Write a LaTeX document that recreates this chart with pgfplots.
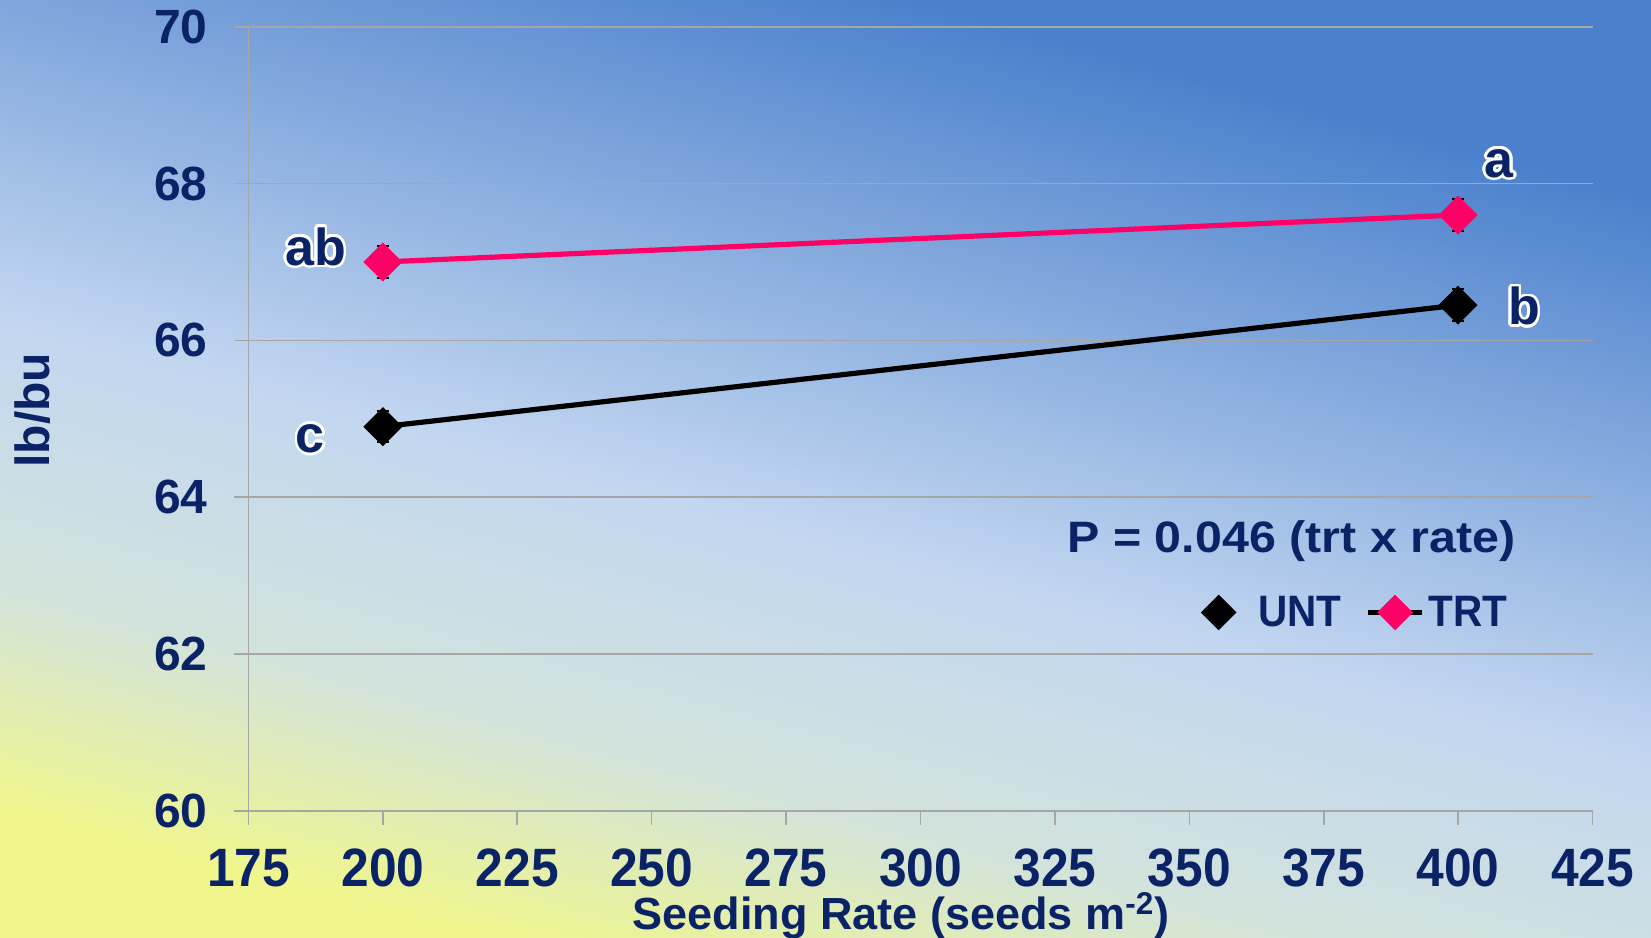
\documentclass[border=0pt]{standalone}
\usepackage{fontspec}
\setmainfont{Liberation Sans}
\usepackage{pgfplots}
\pgfplotsset{compat=1.18}
\usepackage{graphicx}
\usepackage[copies]{contour}
\contourlength{1.3pt}
\contournumber{24}
\definecolor{navy}{HTML}{0A2366}
\definecolor{pinkc}{HTML}{FF0066}
\definecolor{gridc}{HTML}{A6A6A6}
\definecolor{yel}{HTML}{F0F68C}
\definecolor{lgta}{HTML}{D2E3DC}
\definecolor{lgtb}{HTML}{C2D6F0}
\definecolor{blu}{HTML}{4A80CC}
\pgfdeclareverticalshading{bgshade}{100bp}{color(0bp)=(yel); color(25bp)=(yel); color(35bp)=(lgta); color(47bp)=(lgtb); color(72bp)=(blu); color(100bp)=(blu)}
\pgfplotsset{
  untleg/.style={legend image code/.code={\draw plot[mark=square*, mark size=5pt, mark options={rotate=45,fill=black,draw=black}] coordinates {(13.5pt,0pt)}; \path (30pt,0pt);}},
  trtleg/.style={legend image code/.code={\draw[black, line width=2.6pt] (0pt,0pt)--(27pt,0pt); \draw plot[mark=square*, mark size=5pt, mark options={rotate=45,fill=pinkc,draw=pinkc}] coordinates {(13.5pt,0pt)};}},
}
\pgfplotstableread{
x y e
200 64.90 0.20
400 66.45 0.20
}\unt
\pgfplotstableread{
x y e
200 67.00 0.20
400 67.60 0.20
}\trt
\begin{document}
\begin{tikzpicture}
\useasboundingbox (-124.25pt,-63.6pt) rectangle (701.25pt,405.4pt);
\shade[shading=bgshade, shading angle=-15] (-124.25pt,-63.6pt) rectangle (701.25pt,405.4pt);
\begin{axis}[
  at={(0,0)}, anchor=south west,
  scale only axis, width=672pt, height=392pt,
  xmin=175, xmax=425, ymin=60, ymax=70,
  xtick={175,200,...,425}, ytick={60,62,...,70},
  axis lines=left, axis line style={-, gridc, line width=0.8pt},
  tick align=outside, major tick length=7pt,
  tick style={gridc, line width=0.8pt},
  ymajorgrids, grid style={gridc, line width=0.8pt},
  /pgf/number format/assume math mode=true,
  yticklabel style={font=\bfseries\fontsize{24}{24}\selectfont, text=navy, xshift=-10pt},
  xticklabel style={font=\bfseries\fontsize{27}{28}\selectfont, text=navy, yshift=-8.5pt},
  xticklabel={\scalebox{0.92}[1]{\pgfmathprintnumber{\tick}}},
  xlabel={Seeding Rate (seeds m\textsuperscript{-2})},
  xlabel style={font=\bfseries\fontsize{22.5}{23}\selectfont, text=navy, at={(axis description cs:0.4855,0)}, anchor=center, yshift=-52.5pt},
  ylabel={lb/bu},
  ylabel style={font=\bfseries\fontsize{24}{24}\selectfont, text=navy, at={(axis description cs:-0.1607,0.511)}, anchor=center},
  legend style={at={(0.8255,0.253)}, anchor=center, draw=none, fill=none,
    font=\bfseries\fontsize{22}{22}\selectfont, text=navy,
    /tikz/every even column/.append style={column sep=10pt}},
  legend columns=2,
  clip=false,
]
\addplot[black, line width=2.6pt, mark=square*, mark size=5.6pt,
  mark options={rotate=45, solid, fill=black, draw=black}, untleg,
  error bars/.cd, y dir=both, y explicit,
  error bar style={black, line width=0.6pt},
  error mark options={rotate=90, black, mark size=3pt, line width=1pt}]
  table[x=x, y=y, y error=e] {\unt};
\addlegendentry{\scalebox{0.92}[1]{UNT}}
\addplot[pinkc, line width=2.6pt, mark=square*, mark size=5.6pt,
  mark options={rotate=45, solid, fill=pinkc, draw=pinkc}, trtleg,
  error bars/.cd, y dir=both, y explicit,
  error bar style={black, line width=0.6pt},
  error mark options={rotate=90, black, mark size=3pt, line width=1pt}]
  table[x=x, y=y, y error=e] {\trt};
\addlegendentry{\scalebox{0.92}[1]{TRT}}
\node[font=\bfseries\fontsize{22}{22}\selectfont, text=navy] at (axis cs:369,63.44) {\scalebox{1.1}[1]{P = 0.046 (trt x rate)}};
\node[font=\bfseries\fontsize{26}{26}\selectfont, text=navy] at (axis cs:187.5,67.18) {\contour{white}{ab}};
\node[font=\bfseries\fontsize{26}{26}\selectfont, text=navy] at (axis cs:407.6,68.24) {\contour{white}{a}};
\node[font=\bfseries\fontsize{26}{26}\selectfont, text=navy] at (axis cs:412.3,66.42) {\contour{white}{b}};
\node[font=\bfseries\fontsize{26}{26}\selectfont, text=navy] at (axis cs:186.5,64.73) {\contour{white}{c}};
\end{axis}
\end{tikzpicture}
\end{document}
